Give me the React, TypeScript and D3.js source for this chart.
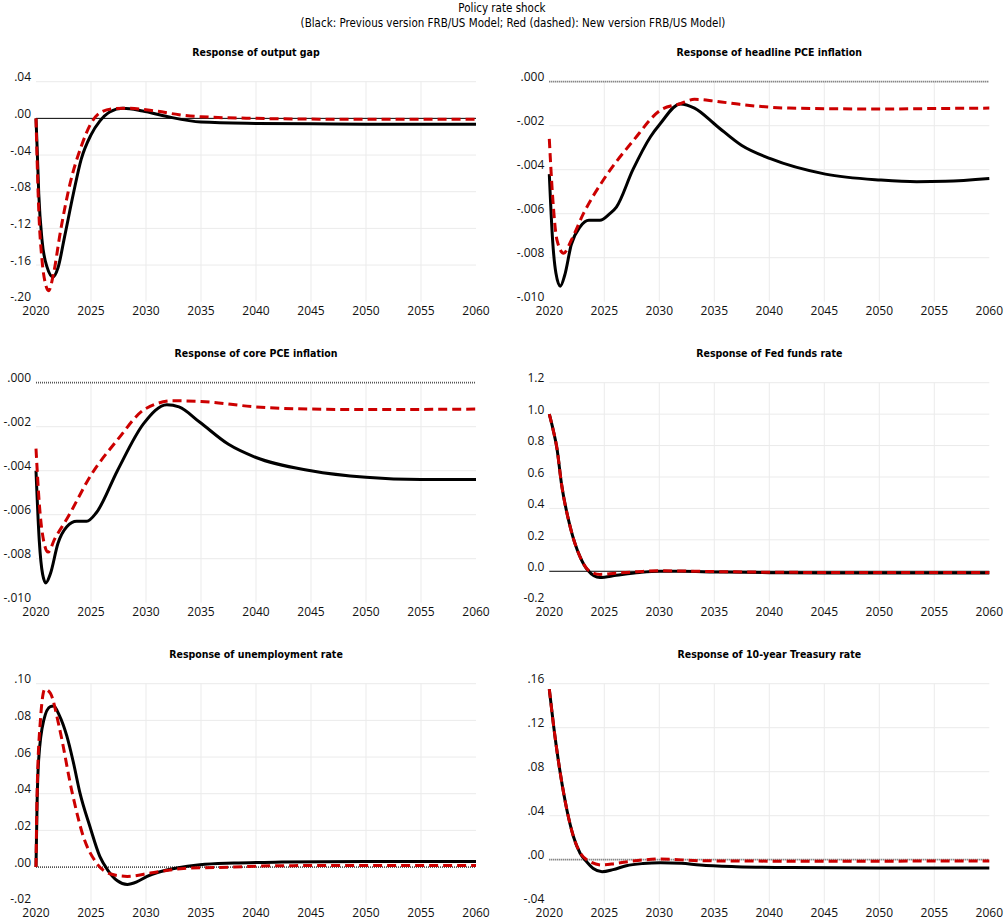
import React, { useEffect, useRef } from 'react';
import * as d3 from 'd3';

type Pt = [number, number];

// x axis years
const YEAR_TICKS = [2020, 2025, 2030, 2035, 2040, 2045, 2050, 2055, 2060];

const TITLES = [
  'Response of output gap',
  'Response of headline PCE inflation',
  'Response of core PCE inflation',
  'Response of Fed funds rate',
  'Response of unemployment rate',
  'Response of 10-year Treasury rate',
];

// [year, response]
const OUTPUT_GAP_PREV: Pt[] = [
  [2020, 0], [2020.1, -0.031], [2020.25, -0.082], [2020.55, -0.133], [2021, -0.162], [2021.55, -0.173],
  [2022, -0.163], [2022.6, -0.129], [2023.4, -0.082], [2024.1, -0.045], [2025, -0.018], [2025.8, -0.003],
  [2026.7, 0.007], [2027.9, 0.011], [2029.7, 0.008], [2031.9, 0.002], [2035, -0.004], [2040, -0.0055],
  [2045, -0.006], [2050, -0.0063], [2060, -0.0065],
];
const OUTPUT_GAP_NEW: Pt[] = [
  [2020, 0], [2020.1, -0.045], [2020.25, -0.1], [2020.55, -0.155], [2020.85, -0.18], [2021.15, -0.188],
  [2021.6, -0.169], [2022.2, -0.125], [2023.1, -0.071], [2024.1, -0.031], [2025, -0.0055], [2025.8, 0.006],
  [2027, 0.0105], [2028.3, 0.011], [2030.9, 0.008], [2033, 0.004], [2035, 0.0018], [2040, 0],
  [2045, -0.0008], [2050, -0.001], [2060, -0.001],
];

const HEADLINE_PREV: Pt[] = [
  [2020, -0.0042], [2020.3, -0.0072], [2020.6, -0.0087], [2021, -0.0093], [2021.4, -0.0088], [2022, -0.0074],
  [2022.8, -0.0066], [2023.6, -0.0063], [2024.6, -0.0063], [2025.5, -0.006], [2026.1, -0.0057], [2027.6, -0.004],
  [2029.2, -0.0025], [2030.1, -0.0019], [2031.9, -0.00101], [2033.2, -0.0012], [2035.2, -0.002], [2037.5, -0.0029],
  [2040.1, -0.0035], [2045.1, -0.0042], [2050.1, -0.00447], [2053.4, -0.00455], [2056, -0.00453], [2060, -0.0044],
];
const HEADLINE_NEW: Pt[] = [
  [2020, -0.0026], [2020.3, -0.0052], [2020.7, -0.0072], [2021.3, -0.0078], [2022, -0.0072], [2023.1, -0.006],
  [2025, -0.0044], [2027.6, -0.0027], [2030.1, -0.0013], [2031.9, -0.001], [2033.2, -0.0008], [2035, -0.00088],
  [2037.3, -0.00103], [2041.8, -0.0012], [2050, -0.00124], [2055, -0.00122], [2060, -0.0012],
];

const CORE_PREV: Pt[] = [
  [2020, -0.004], [2020.3, -0.0072], [2020.6, -0.0087], [2020.9, -0.0091], [2021.3, -0.0087], [2022, -0.0073],
  [2022.8, -0.00655], [2023.7, -0.0063], [2024.6, -0.0063], [2025.5, -0.0059], [2027.4, -0.004], [2029.8, -0.00185],
  [2031.9, -0.001], [2033, -0.0011], [2034.9, -0.0018], [2037.5, -0.0028], [2040, -0.0034], [2045, -0.004],
  [2050, -0.0043], [2055, -0.0044], [2060, -0.0044],
];
const CORE_NEW: Pt[] = [
  [2020, -0.003], [2020.3, -0.0055], [2020.7, -0.0072], [2021.1, -0.0077], [2021.7, -0.0071], [2022.8, -0.0062],
  [2025, -0.0042], [2027.4, -0.0026], [2029.9, -0.0012], [2032.5, -0.00082], [2035, -0.00085], [2040, -0.0011],
  [2045, -0.0012], [2050, -0.00122], [2060, -0.0012],
];

const FED_FUNDS_PREV: Pt[] = [
  [2020, 1.0], [2020.35, 0.9], [2020.7, 0.78], [2021.1, 0.56], [2021.9, 0.283], [2022.8, 0.091], [2023.5, 0.006],
  [2024.6, -0.04], [2026.1, -0.026], [2028.2, -0.008], [2030, 0], [2032, 0], [2035, -0.004], [2040, -0.009],
  [2045, -0.011], [2050, -0.011], [2060, -0.011],
];
const FED_FUNDS_NEW: Pt[] = [
  [2020, 1.0], [2020.35, 0.9], [2020.7, 0.78], [2021.1, 0.56], [2021.9, 0.283], [2022.8, 0.091], [2023.5, 0.01],
  [2024.6, -0.02], [2026, -0.012], [2028, -0.003], [2030, 0.003], [2035, -0.002], [2040, -0.006],
  [2050, -0.008], [2060, -0.008],
];

const UNEMPLOYMENT_PREV: Pt[] = [
  [2020, 0], [2020.1, 0.035], [2020.24, 0.0585], [2020.7, 0.08], [2021.3, 0.0875], [2021.6, 0.0878], [2022.1, 0.083],
  [2022.8, 0.0715], [2023.4, 0.057], [2024, 0.0403], [2024.9, 0.0221], [2025.8, 0.0058], [2026.5, -0.0015],
  [2027.4, -0.0075], [2028.3, -0.0095], [2029.2, -0.008], [2030.1, -0.0051], [2032.8, -0.0005], [2034.9, 0.0013],
  [2038, 0.0022], [2042.3, 0.0027], [2050, 0.003], [2060, 0.003],
];
const UNEMPLOYMENT_NEW: Pt[] = [
  [2020, 0], [2020.1, 0.04], [2020.4, 0.08], [2020.8, 0.097], [2021.3, 0.0949], [2022.1, 0.0767], [2023.3, 0.0403],
  [2024.3, 0.0167], [2025.5, 0.0022], [2026.8, -0.0038], [2028.3, -0.0051], [2030.4, -0.0033], [2033.4, -0.0008],
  [2038, 0], [2042, 0.0007], [2050, 0.0009], [2060, 0.0009],
];

const TREASURY_PREV: Pt[] = [
  [2020, 0.155], [2020.4, 0.121], [2021, 0.0785], [2021.6, 0.0452], [2022.2, 0.0209], [2022.8, 0.0058],
  [2023.4, -0.0018], [2024, -0.008], [2024.8, -0.0109], [2025.8, -0.009], [2027, -0.0055], [2028.5, -0.0035],
  [2030.1, -0.0027], [2032, -0.0033], [2033.7, -0.0048], [2037, -0.0063], [2042, -0.0072], [2050, -0.0076],
  [2060, -0.0075],
];
const TREASURY_NEW: Pt[] = [
  [2020, 0.155], [2020.4, 0.121], [2021, 0.0785], [2021.6, 0.0452], [2022.2, 0.0209], [2022.8, 0.0065],
  [2023.4, 0.0], [2024.8, -0.0048], [2026, -0.0035], [2027.6, -0.0012], [2030.1, 0.0006], [2033.7, -0.0009],
  [2040, -0.0013], [2050, -0.0013], [2060, -0.0012],
];

// y ticks per panel, top to bottom
const OUTPUT_GAP_TICKS = [0.04, 0, -0.04, -0.08, -0.12, -0.16, -0.2];
const HEADLINE_TICKS = [0, -0.002, -0.004, -0.006, -0.008, -0.01];
const CORE_TICKS = [0, -0.002, -0.004, -0.006, -0.008, -0.01];
const FED_FUNDS_TICKS = [1.2, 1.0, 0.8, 0.6, 0.4, 0.2, 0, -0.2];
const UNEMPLOYMENT_TICKS = [0.1, 0.08, 0.06, 0.04, 0.02, 0, -0.02];
const TREASURY_TICKS = [0.16, 0.12, 0.08, 0.04, 0, -0.04];

// plain hyphen minus, optional leading zero
const fmtTick = (spec: string, dropZero: boolean) => (v: number) => {
  let s = d3.format(spec)(v).replace('\u2212', '-');
  if (dropZero) s = s.replace(/^(-?)0\./, '$1.');
  return s;
};

const PANELS = [
  { title: TITLES[0], prev: OUTPUT_GAP_PREV, next: OUTPUT_GAP_NEW, ticks: OUTPUT_GAP_TICKS, fmt: fmtTick('.2f', true), zero: 'solid' },
  { title: TITLES[1], prev: HEADLINE_PREV, next: HEADLINE_NEW, ticks: HEADLINE_TICKS, fmt: fmtTick('.3f', true), zero: 'dotted' },
  { title: TITLES[2], prev: CORE_PREV, next: CORE_NEW, ticks: CORE_TICKS, fmt: fmtTick('.3f', true), zero: 'dotted' },
  { title: TITLES[3], prev: FED_FUNDS_PREV, next: FED_FUNDS_NEW, ticks: FED_FUNDS_TICKS, fmt: fmtTick('.1f', false), zero: 'solid' },
  { title: TITLES[4], prev: UNEMPLOYMENT_PREV, next: UNEMPLOYMENT_NEW, ticks: UNEMPLOYMENT_TICKS, fmt: fmtTick('.2f', true), zero: 'dotted' },
  { title: TITLES[5], prev: TREASURY_PREV, next: TREASURY_NEW, ticks: TREASURY_TICKS, fmt: fmtTick('.2f', true), zero: 'dotted' },
];

const TITLE_FONT = "'Liberation Sans Narrow', 'DejaVu Sans Condensed', 'Liberation Sans', Arial, sans-serif";
const TICK_FONT = "'Open Sans', 'Liberation Sans', Arial, sans-serif";

export default function App() {
  const ref = useRef<SVGSVGElement>(null);

  useEffect(() => {
    const svgEl = ref.current;
    if (!svgEl) return;
    const svg = d3.select(svgEl);
    svg.selectAll('*').remove();

    svg.append('rect').attr('width', 1005).attr('height', 922).attr('fill', '#fff');

    svg.append('text')
      .attr('x', 502).attr('y', 12)
      .attr('text-anchor', 'middle')
      .attr('font-family', TITLE_FONT).attr('font-size', 11.5)
      .text('Policy rate shock');
    svg.append('text')
      .attr('x', 513).attr('y', 27)
      .attr('text-anchor', 'middle')
      .attr('font-family', TITLE_FONT).attr('font-size', 11.5)
      .text('(Black: Previous version FRB/US Model; Red (dashed): New version FRB/US Model)');

    const colX = [36, 549.3];
    const rowY = [81.7, 382.7, 683.7];
    const w = 440;
    const h = 220;

    PANELS.forEach((p, i) => {
      const left = colX[i % 2];
      const top = rowY[Math.floor(i / 2)];
      const g = svg.append('g').attr('transform', `translate(${left},${top})`);

      const x = d3.scaleLinear().domain([2020, 2060]).range([0, w]);
      const y = d3
        .scaleLinear()
        .domain([p.ticks[p.ticks.length - 1], p.ticks[0]])
        .range([h, 0]);

      svg.append('text')
        .attr('x', left + w / 2).attr('y', top - 26)
        .attr('text-anchor', 'middle')
        .attr('font-family', TITLE_FONT).attr('font-size', 10.5).attr('font-weight', 700)
        .text(p.title);

      // gridlines
      g.selectAll('line.hgrid')
        .data(p.ticks.slice(0, -1).filter((t) => t !== 0))
        .join('line')
        .attr('class', 'hgrid')
        .attr('x1', 0).attr('x2', w)
        .attr('y1', (d) => y(d)).attr('y2', (d) => y(d))
        .attr('stroke', '#ebebeb').attr('stroke-width', 1);
      g.selectAll('line.vgrid')
        .data(YEAR_TICKS.slice(1, -1))
        .join('line')
        .attr('class', 'vgrid')
        .attr('x1', (d) => x(d)).attr('x2', (d) => x(d))
        .attr('y1', 0).attr('y2', h)
        .attr('stroke', '#ebebeb').attr('stroke-width', 1);

      // zero line
      const zl = g.append('line')
        .attr('x1', 0).attr('x2', w)
        .attr('y1', y(0)).attr('y2', y(0));
      if (p.zero === 'solid') {
        zl.attr('stroke', '#000').attr('stroke-width', 1);
      } else {
        zl.attr('stroke', '#555').attr('stroke-width', 1.8).attr('stroke-dasharray', '1 1');
      }

      // y tick labels
      g.selectAll('text.ytick')
        .data(p.ticks)
        .join('text')
        .attr('class', 'ytick')
        .attr('x', -5)
        .attr('y', (d) => y(d) - 4.5)
        .attr('dy', '0.35em')
        .attr('text-anchor', 'end')
        .attr('font-family', TICK_FONT).attr('font-size', 12)
        .attr('fill', '#111')
        .text((d) => p.fmt(d));

      // x tick labels
      g.selectAll('text.xtick')
        .data(YEAR_TICKS)
        .join('text')
        .attr('class', 'xtick')
        .attr('x', (d) => x(d))
        .attr('y', h + 9)
        .attr('dy', '0.35em')
        .attr('text-anchor', 'middle')
        .attr('font-family', TICK_FONT).attr('font-size', 12)
        .attr('fill', '#111')
        .text((d) => String(d));

      const line = d3
        .line<Pt>()
        .x((d) => x(d[0]))
        .y((d) => y(d[1]))
        .curve(d3.curveMonotoneX);

      g.append('path')
        .datum(p.prev)
        .attr('d', line)
        .attr('fill', 'none')
        .attr('stroke', '#000')
        .attr('stroke-width', 3)
        .attr('stroke-linejoin', 'round');

      g.append('path')
        .datum(p.next)
        .attr('d', line)
        .attr('fill', 'none')
        .attr('stroke', '#cc0000')
        .attr('stroke-width', 3)
        .attr('stroke-dasharray', '9 5');
    });
  }, []);

  return (
    <svg
      ref={ref}
      width={1005}
      height={922}
      style={{ position: 'absolute', left: 0, top: 0 }}
      aria-label="Policy rate shock impulse responses"
    />
  );
}
